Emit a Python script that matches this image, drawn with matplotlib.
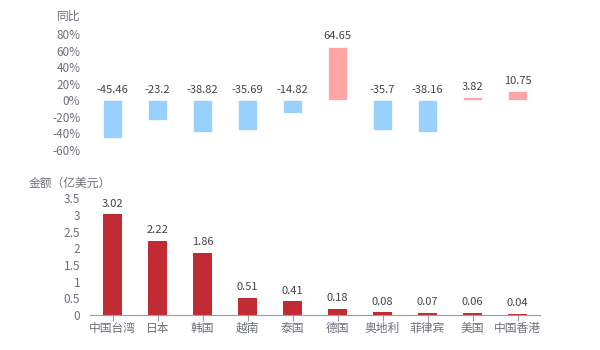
import numpy as np
import matplotlib.pyplot as plt

plt.rcParams['font.family'] = ['Noto Sans CJK SC', 'DejaVu Sans']

regions = ["中国台湾", "日本", "韩国", "越南", "泰国", "德国", "奥地利", "菲律宾", "美国", "中国香港"]
yoy = [-45.46, -23.2, -38.82, -35.69, -14.82, 64.65, -35.7, -38.16, 3.82, 10.75]
yoy_labels = ["-45.46", "-23.2", "-38.82", "-35.69", "-14.82", "64.65", "-35.7", "-38.16", "3.82", "10.75"]
amount = [3.02, 2.22, 1.86, 0.51, 0.41, 0.18, 0.08, 0.07, 0.06, 0.04]
amount_labels = ["3.02", "2.22", "1.86", "0.51", "0.41", "0.18", "0.08", "0.07", "0.06", "0.04"]
yoy_ticks = [-60, -40, -20, 0, 20, 40, 60, 80]
amt_ticks = [0, 0.5, 1, 1.5, 2, 2.5, 3, 3.5]
amt_tick_labels = ["0", "0.5", "1", "1.5", "2", "2.5", "3", "3.5"]

tick_c = "#6e7079"
lab_c = "#444444"
x = np.arange(len(regions))

fig = plt.figure(figsize=(6, 3.5), dpi=100)

# 上图：同比
ax1 = fig.add_axes([0.15, 0.5714, 0.75, 0.3314])
cols = ["#99d1fe" if v < 0 else "#ffa5a5" for v in yoy]
ax1.bar(x, yoy, width=0.44, color=cols, edgecolor="white", linewidth=0.5)
for xi, v, t in zip(x, yoy, yoy_labels):
    ax1.annotate(t, (xi, max(v, 0)), xytext=(0, 4), textcoords="offset points",
                 ha="center", va="bottom", fontsize=8, color=lab_c)
ax1.set_xlim(-0.5, len(regions) - 0.5)
ax1.set_ylim(-60, 80)
ax1.set_yticks(yoy_ticks)
ax1.set_yticklabels([f"{t}%" for t in yoy_ticks])
ax1.set_xticks([])
for s in ax1.spines.values():
    s.set_visible(False)
ax1.tick_params(axis="y", length=0, labelsize=8.5, labelcolor=tick_c, pad=7)
ax1.annotate("同比", (0, 1), xycoords="axes fraction", xytext=(-7, 8),
             textcoords="offset points", ha="right", va="bottom", fontsize=8.5, color=tick_c)

# 下图：金额
ax2 = fig.add_axes([0.15, 0.1, 0.75, 0.3334])
ax2.bar(x, amount, width=0.44, color="#c12c34")
for xi, v, t in zip(x, amount, amount_labels):
    ax2.annotate(t, (xi, v), xytext=(0, 4), textcoords="offset points",
                 ha="center", va="bottom", fontsize=8, color=lab_c)
ax2.set_xlim(-0.5, len(regions) - 0.5)
ax2.set_ylim(0, 3.5)
ax2.set_yticks(amt_ticks)
ax2.set_yticklabels(amt_tick_labels)
ax2.set_xticks(x)
ax2.set_xticklabels(regions)
for k in ["top", "right", "left"]:
    ax2.spines[k].set_visible(False)
ax2.spines["bottom"].set_color("#9a9ca3")
ax2.tick_params(axis="y", length=0, labelsize=8.5, labelcolor=tick_c, pad=7)
ax2.tick_params(axis="x", length=4, color="#9a9ca3", labelsize=8.5, labelcolor=tick_c, pad=1)
fig.text(0.047, 0.477, "金额（亿美元）", ha="left", va="center", fontsize=8.5, color=tick_c)

fig.savefig("out.png", dpi=100)
